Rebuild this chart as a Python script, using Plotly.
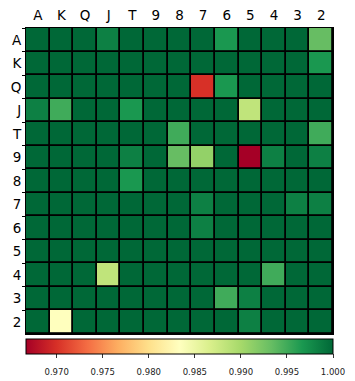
import plotly.graph_objects as go

ranks = ["A", "K", "Q", "J", "T", "9", "8", "7", "6", "5", "4", "3", "2"]

# rows: A..2 ; cols: A..2
row_A = [1.0, 1.0, 1.0, 0.9983, 1.0, 1.0, 1.0, 1.0, 0.9967, 1.0, 1.0, 1.0, 0.9933]
row_K = [1.0, 1.0, 1.0, 1.0, 1.0, 1.0, 1.0, 1.0, 1.0, 1.0, 1.0, 1.0, 0.9967]
row_Q = [1.0, 1.0, 1.0, 1.0, 1.0, 1.0, 1.0, 0.9700, 0.9967, 1.0, 1.0, 1.0, 1.0]
row_J = [0.9983, 0.9950, 1.0, 1.0, 0.9967, 1.0, 1.0, 1.0, 1.0, 0.9883, 1.0, 1.0, 1.0]
row_T = [1.0, 1.0, 1.0, 1.0, 1.0, 1.0, 0.9950, 1.0, 1.0, 1.0, 1.0, 1.0, 0.9950]
row_9 = [1.0, 1.0, 1.0, 1.0, 0.9983, 1.0, 0.9933, 0.9910, 1.0, 0.9667, 0.9983, 1.0, 0.9983]
row_8 = [1.0, 1.0, 1.0, 1.0, 0.9967, 1.0, 1.0, 1.0, 1.0, 1.0, 1.0, 1.0, 1.0]
row_7 = [1.0, 1.0, 1.0, 1.0, 1.0, 1.0, 1.0, 0.9983, 1.0, 1.0, 1.0, 0.9983, 0.9983]
row_6 = [1.0, 1.0, 1.0, 1.0, 1.0, 1.0, 1.0, 0.9983, 1.0, 1.0, 1.0, 1.0, 1.0]
row_5 = [1.0, 1.0, 1.0, 1.0, 1.0, 1.0, 1.0, 1.0, 1.0, 1.0, 1.0, 1.0, 1.0]
row_4 = [1.0, 1.0, 1.0, 0.9883, 1.0, 1.0, 1.0, 1.0, 1.0, 1.0, 0.9950, 1.0, 1.0]
row_3 = [1.0, 1.0, 1.0, 1.0, 1.0, 1.0, 1.0, 1.0, 0.9950, 0.9983, 1.0, 1.0, 1.0]
row_2 = [1.0, 0.9833, 1.0, 1.0, 1.0, 1.0, 1.0, 1.0, 1.0, 0.9983, 1.0, 1.0, 1.0]

z = [row_A, row_K, row_Q, row_J, row_T, row_9, row_8, row_7, row_6, row_5, row_4, row_3, row_2]

zmin = 0.96667
zmax = 1.0
tick_vals = [0.970, 0.975, 0.980, 0.985, 0.990, 0.995, 1.000]

rdylgn = ["#a50026", "#d73027", "#f46d43", "#fdae61", "#fee08b", "#ffffbf",
          "#d9ef8b", "#a6d96a", "#66bd63", "#1a9850", "#006837"]
colorscale = [[i / 10, c] for i, c in enumerate(rdylgn)]

fig = go.Figure(go.Heatmap(
    z=z, x=ranks, y=ranks,
    zmin=zmin, zmax=zmax,
    colorscale=colorscale,
    xgap=1.8, ygap=1.8,
    colorbar=dict(
        orientation="h",
        x=0, xanchor="left",
        y=-0.016, yanchor="top",
        len=1.0, lenmode="fraction",
        thickness=15,
        outlinecolor="black", outlinewidth=1,
        tickvals=tick_vals,
        ticktext=[f"<span style='baseline-shift:-7px'>{v:.3f}</span>" for v in tick_vals],
        tickfont=dict(family="DejaVu Sans", size=8.5, color="#222"),
        ticks="outside", ticklen=4, tickcolor="#333",
        xpad=0, ypad=0,
    ),
))

fig.update_layout(
    width=347, height=373,
    margin=dict(l=18, r=22, t=20, b=47, autoexpand=False),
    paper_bgcolor="white",
    plot_bgcolor="black",
    font=dict(family="DejaVu Sans", size=13.5, color="black"),
    xaxis=dict(side="top", showgrid=False, zeroline=False, ticks="",
               showline=True, linecolor="black", linewidth=1, mirror=True,
               ticklabelstandoff=2, tickfont=dict(size=13.5)),
    yaxis=dict(autorange="reversed", showgrid=False, zeroline=False,
               ticks="outside", tickson="boundaries", ticklen=3, tickcolor="black",
               showline=True, linecolor="black", linewidth=1, mirror=True,
               ticklabelstandoff=1, tickfont=dict(size=13.5)),
)

fig.write_html("out.html")
